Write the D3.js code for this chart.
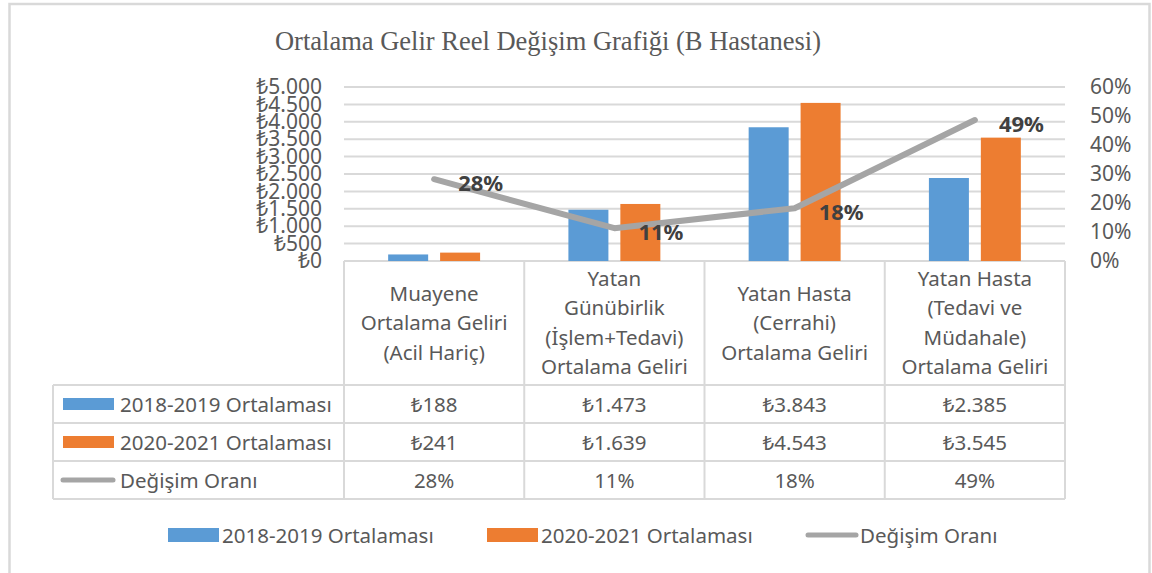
<!DOCTYPE html>
<html>
<head>
<meta charset="utf-8">
<script src="https://d3js.org/d3.v7.min.js"></script>
<style>
  body { margin: 0; background: #fff; }
  text { font-family: "Noto Sans", "DejaVu Sans", sans-serif; fill: #595959; }
</style>
</head>
<body>
<svg id="vis"></svg>
<script>
  // Data
  var categories = [
    ['Muayene', 'Ortalama Geliri', '(Acil Hariç)'],
    ['Yatan', 'Günübirlik', '(İşlem+Tedavi)', 'Ortalama Geliri'],
    ['Yatan Hasta', '(Cerrahi)', 'Ortalama Geliri'],
    ['Yatan Hasta', '(Tedavi ve', 'Müdahale)', 'Ortalama Geliri']
  ]
  var series1 = [188, 1473, 3843, 2385]   // 2018-2019 Ortalaması
  var series2 = [241, 1639, 4543, 3545]   // 2020-2021 Ortalaması
  var change = [0.282, 0.113, 0.182, 0.486] // Değişim Oranı
  var seriesNames = ['2018-2019 Ortalaması', '2020-2021 Ortalaması', 'Değişim Oranı']
  var leftTicks = [0, 500, 1000, 1500, 2000, 2500, 3000, 3500, 4000, 4500, 5000]
  var rightTicks = [0, 0.1, 0.2, 0.3, 0.4, 0.5, 0.6]
  var title = 'Ortalama Gelir Reel Değişim Grafiği (B Hastanesi)'

  var blue = '#5b9bd5', orange = '#ed7d31', grey = '#a5a5a5', lineCol = '#d9d9d9'

  var W = 1152, H = 573
  var svg = d3.select('#vis').attr('width', W).attr('height', H)

  // outer frame
  svg.append('rect')
    .attr('x', 9.5).attr('y', 4).attr('width', 1140).attr('height', 620)
    .attr('fill', 'none').attr('stroke', lineCol).attr('stroke-width', 2.5)

  // title
  svg.append('text')
    .attr('x', 548).attr('y', 50)
    .attr('text-anchor', 'middle')
    .style('font-family', '"Liberation Serif", "Times New Roman", serif')
    .style('font-size', '26.5px')
    .text(title)

  // scales
  var plotLeft = 344, plotRight = 1065, plotTop = 87, plotBottom = 261
  var idx = d3.range(categories.length)
  var x = d3.scaleBand().domain(idx).range([plotLeft, plotRight])
  var xSub = d3.scaleBand().domain([0, 1]).range([0, x.bandwidth()])
    .paddingInner(0.23).paddingOuter(0.85)
  var yL = d3.scaleLinear().domain([0, 5000]).range([plotBottom, plotTop])
  var yR = d3.scaleLinear().domain([0, 0.6]).range([plotBottom, plotTop])

  var tr = d3.formatLocale({decimal: ',', thousands: '.', grouping: [3], currency: ['₺', '']})
  var money = tr.format('$,.0f')
  var pct = d3.format('.0%')

  // gridlines
  svg.append('g').selectAll('line')
    .data(leftTicks).enter().append('line')
    .attr('x1', plotLeft).attr('x2', plotRight)
    .attr('y1', function(d) { return yL(d) }).attr('y2', function(d) { return yL(d) })
    .attr('stroke', lineCol).attr('stroke-width', 2)

  // axes
  var axL = svg.append('g').attr('transform', 'translate(' + plotLeft + ',0)')
    .call(d3.axisLeft(yL).tickValues(leftTicks).tickFormat(money).tickSize(0).tickPadding(22))
  var axR = svg.append('g').attr('transform', 'translate(' + plotRight + ',0)')
    .call(d3.axisRight(yR).tickValues(rightTicks).tickFormat(pct).tickSize(0).tickPadding(25))
  ;[axL, axR].forEach(function(a) {
    a.select('.domain').remove()
    a.selectAll('text').style('font-size', '21px').attr('fill', '#595959')
      .style('font-family', '"Noto Sans", sans-serif')
  })

  // bars
  var bars = svg.append('g')
  ;[series1, series2].forEach(function(s, k) {
    bars.selectAll('.b' + k)
      .data(s).enter().append('rect')
      .attr('class', 'b' + k)
      .attr('x', function(d, i) { return x(i) + xSub(k) })
      .attr('width', xSub.bandwidth())
      .attr('y', function(d) { return yL(d) })
      .attr('height', function(d) { return plotBottom - yL(d) })
      .attr('fill', k == 0 ? blue : orange)
  })

  // line
  var line = d3.line()
    .x(function(d, i) { return x(i) + x.bandwidth() / 2 })
    .y(function(d) { return yR(d) })
  svg.append('path')
    .attr('d', line(change))
    .attr('fill', 'none').attr('stroke', grey).attr('stroke-width', 6)
    .attr('stroke-linecap', 'round').attr('stroke-linejoin', 'round')

  svg.append('g').selectAll('text')
    .data(change).enter().append('text')
    .attr('x', function(d, i) { return x(i) + x.bandwidth() / 2 + 24 })
    .attr('y', function(d) { return yR(d) + 3 })
    .attr('dominant-baseline', 'central')
    .style('font-size', '22px').style('font-weight', 'bold')
    .style('fill', '#404040')
    .text(function(d) { return pct(d) })

  // data table
  var tableLeft = 53
  var rowTops = [385, 423, 461, 499]
  var fs = '20.5px'
  var table = svg.append('g')

  // header cells
  idx.forEach(function(i) {
    var cx = x(i) + x.bandwidth() / 2
    var lines = categories[i]
    var step = 29.5, mid = 322
    table.selectAll('.h' + i)
      .data(lines).enter().append('text')
      .attr('x', cx)
      .attr('y', function(d, j) { return mid + (j - (lines.length - 1) / 2) * step })
      .attr('text-anchor', 'middle').attr('dominant-baseline', 'central')
      .style('font-size', fs)
      .text(function(d) { return d })
  })

  // vertical lines
  var vx = idx.map(function(i) { return x(i) }).concat([plotRight])
  table.selectAll('.v')
    .data(vx).enter().append('line')
    .attr('x1', function(d) { return d }).attr('x2', function(d) { return d })
    .attr('y1', plotBottom).attr('y2', rowTops[3])
    .attr('stroke', lineCol).attr('stroke-width', 2)
  table.append('line')
    .attr('x1', tableLeft).attr('x2', tableLeft)
    .attr('y1', rowTops[0]).attr('y2', rowTops[3])
    .attr('stroke', lineCol).attr('stroke-width', 2)
  table.selectAll('.hz')
    .data(rowTops).enter().append('line')
    .attr('x1', tableLeft).attr('x2', plotRight)
    .attr('y1', function(d) { return d }).attr('y2', function(d) { return d })
    .attr('stroke', lineCol).attr('stroke-width', 2)

  var rows = [series1.map(money), series2.map(money), change.map(pct)]
  rows.forEach(function(r, k) {
    var cy = (rowTops[k] + rowTops[k + 1]) / 2
    table.selectAll('.r' + k)
      .data(r).enter().append('text')
      .attr('x', function(d, i) { return x(i) + x.bandwidth() / 2 })
      .attr('y', cy)
      .attr('text-anchor', 'middle').attr('dominant-baseline', 'central')
      .style('font-size', fs)
      .text(function(d) { return d })

    // legend key in the table
    if (k < 2) {
      table.append('rect')
        .attr('x', 63).attr('y', cy - 6).attr('width', 51).attr('height', 12)
        .attr('fill', k == 0 ? blue : orange)
    } else {
      table.append('line')
        .attr('x1', 63).attr('x2', 113).attr('y1', cy).attr('y2', cy)
        .attr('stroke', grey).attr('stroke-width', 5).attr('stroke-linecap', 'round')
    }
    table.append('text')
      .attr('x', 120).attr('y', cy)
      .attr('dominant-baseline', 'central')
      .style('font-size', fs)
      .text(seriesNames[k])
  })

  // bottom legend
  var legendX = [168, 487, 806]
  var leg = svg.append('g')
  seriesNames.forEach(function(n, k) {
    var lx = legendX[k], ly = 535
    if (k < 2) {
      leg.append('rect')
        .attr('x', lx).attr('y', ly - 7).attr('width', 51).attr('height', 14)
        .attr('fill', k == 0 ? blue : orange)
    } else {
      leg.append('line')
        .attr('x1', lx + 2).attr('x2', lx + 50).attr('y1', ly).attr('y2', ly)
        .attr('stroke', grey).attr('stroke-width', 5).attr('stroke-linecap', 'round')
    }
    leg.append('text')
      .attr('x', lx + 54).attr('y', ly)
      .attr('dominant-baseline', 'central')
      .style('font-size', fs)
      .text(n)
  })
</script>
</body>
</html>
